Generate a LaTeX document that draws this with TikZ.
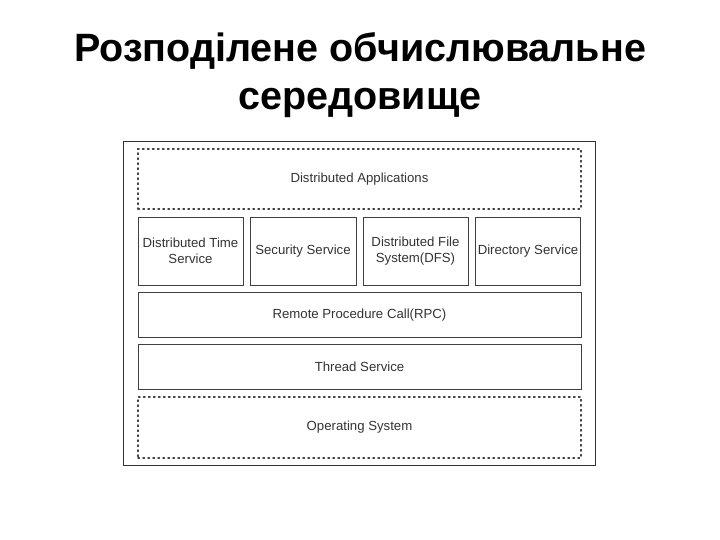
\documentclass[tikz,border=0pt]{standalone}
\usepackage{fontspec}
\setmainfont{Liberation Sans}
\begin{document}
\begin{tikzpicture}[x=1pt,y=-1pt,
  lay/.style={draw=black!75,line width=0.8pt,font=\fontsize{13.2}{15.5}\selectfont,text=black!80,align=center},
  dotbox/.style={lay,line width=1.5pt,dash pattern=on 1.4pt off 3.6pt,line cap=round},
  title/.style={font=\bfseries\fontsize{39.5}{48}\selectfont,align=center}]
\useasboundingbox (0,0) rectangle (720,540);
\node[title] (t) at (360,75) {Розподілене обчислювальне\\середовище};
\draw[draw=black!80,line width=0.8pt] (123,141) rectangle (595,465);
\node[dotbox,minimum width=443,minimum height=60] (da) at (359.5,179) {Distributed Applications};
\node[lay,minimum width=105,minimum height=68,inner sep=1pt] (dts) at (190.5,251) {Distributed Time\\Service};
\node[lay,minimum width=106,minimum height=68,inner sep=1pt] (ss) at (303,251) {Security Service};
\node[lay,minimum width=105,minimum height=68,inner sep=1pt] (dfs) at (415.5,251) {Distributed File\\System(DFS)};
\node[lay,minimum width=105,minimum height=68,inner sep=0pt] (ds) at (528,251) {Directory Service};
\node[lay,minimum width=443,minimum height=45,text depth=0.25em] (rpc) at (359.5,314.5) {Remote Procedure Call(RPC)};
\node[lay,minimum width=443,minimum height=45] (th) at (359.5,366.5) {Thread Service};
\node[dotbox,minimum width=443,minimum height=61] (os) at (359.5,427.5) {Operating System};
\end{tikzpicture}
\end{document}
